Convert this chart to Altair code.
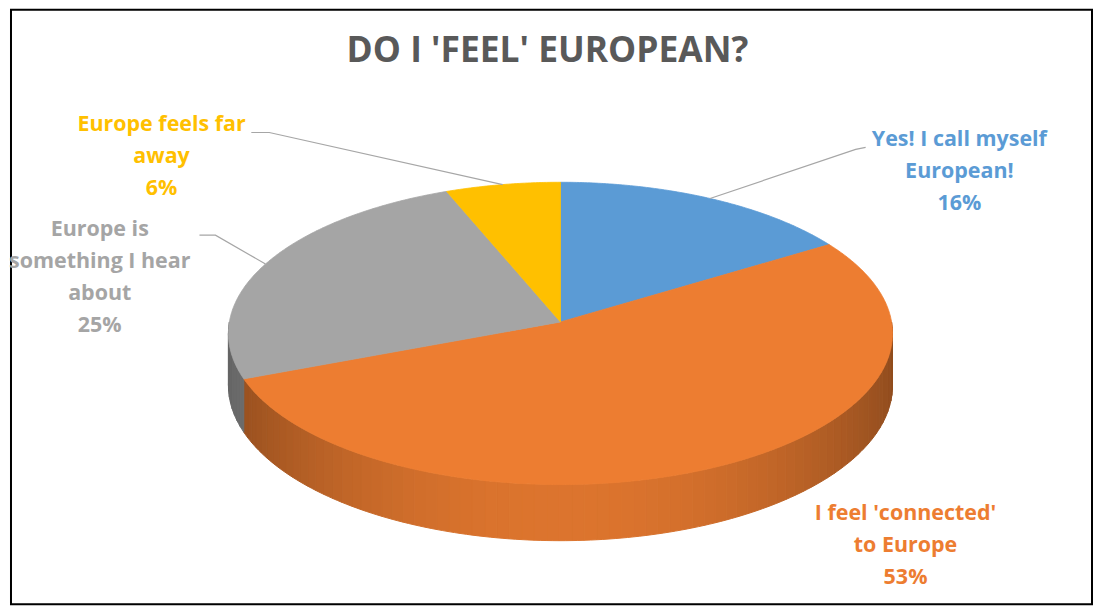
import numpy as np
import pandas as pd
import altair as alt

# ---- data ----
categories = ["Yes! I call myself European!", "I feel 'connected' to Europe",
              "Europe is something I hear about", "Europe feels far away"]
label_lines = [["Yes! I call myself", "European!"],
               ["I feel 'connected'", "to Europe"],
               ["Europe is", "something I hear", "about"],
               ["Europe feels far", "away"]]
values = [16, 53, 25, 6]
colors = ["#5B9BD5", "#ED7D31", "#A5A5A5", "#FFC000"]
title_text = "DO I 'FEEL' EUROPEAN?"

# ---- layout (plot coordinates, px from top-left of plot area) ----
W, H = 1084, 596
CX, CY = 551, 313          # apex of the pie
RX, K, P, DEPTH = 332, 150.7, -0.0758, 52
label_pos = [(951, 137), (897, 512), (89, 227), (151, 122)]
leader_pts = [[(857, 138), (847, 140)], None, [(189, 226), (205, 226)], [(241, 123), (259, 123)]]
LINE_H = 32


def project(theta, drop=0.0):
    u = np.sin(theta)
    s = -np.cos(theta)
    d = 1 + P * s
    return CX + RX * u / d, CY + (K * s + drop) / d


def shade(hexcol, f):
    h = hexcol.lstrip("#")
    r, g, b = (int(h[i:i + 2], 16) for i in (0, 2, 4))
    return "#%02x%02x%02x" % tuple(int(max(0, min(255, round(c * f)))) for c in (r, g, b))


total = sum(values)
bounds = np.concatenate([[0], np.cumsum(values)]) / total * 2 * np.pi

top_rows, side_rows = [], []
for i, (a0, a1) in enumerate(zip(bounds[:-1], bounds[1:])):
    # top face wedge
    n = max(3, int(np.degrees(a1 - a0) / 0.5))
    th = np.linspace(a0, a1, n)
    xs, ys = project(th)
    pts = [(CX, CY)] + list(zip(xs, ys)) + [(CX, CY)]
    for j, (x, y) in enumerate(pts):
        top_rows.append(dict(poly=f"top{i}", idx=j, x=x, y=y, col=colors[i]))
    # visible side (front half)
    lo, hi = max(a0, np.pi / 2), min(a1, 3 * np.pi / 2)
    if hi > lo:
        m = max(2, int(np.degrees(hi - lo) / 2))
        edges = np.linspace(lo, hi, m + 1)
        for k in range(m):
            t0, t1 = edges[k], edges[k + 1]
            tm = 0.5 * (t0 + t1)
            f = 0.93 - 0.32 * np.sin(tm) ** 2
            c = shade(colors[i], f)
            tt = np.linspace(t0, t1, 3)
            xt, yt = project(tt)
            xb, yb = project(tt[::-1], DEPTH)
            ring = list(zip(xt, yt)) + list(zip(xb, yb)) + [(xt[0], yt[0])]
            for j, (x, y) in enumerate(ring):
                side_rows.append(dict(poly=f"side{i}_{k}", idx=j, x=x, y=y, col=c))

top_df = pd.DataFrame(top_rows)
side_df = pd.DataFrame(side_rows)

lab_rows, lead_rows = [], []
for i, cat in enumerate(categories):
    pct = round(values[i] / total * 100)
    lab_rows.append(dict(cat=cat, text=label_lines[i] + [f"{pct}%"],
                         x=label_pos[i][0], y=label_pos[i][1], col=colors[i]))
    if leader_pts[i] is not None:
        mid = 0.5 * (bounds[i] + bounds[i + 1])
        ex, ey = project(mid)
        pts = leader_pts[i] + [(ex, ey)]
        for j, (x, y) in enumerate(pts):
            lead_rows.append(dict(cat=cat, idx=j, x=x, y=y))
lab_df = pd.DataFrame(lab_rows)
lead_df = pd.DataFrame(lead_rows)
title_df = pd.DataFrame([dict(text=title_text, x=538, y=41)])

xs_ = alt.Scale(domain=[0, W], nice=False, zero=False)
ys_ = alt.Scale(domain=[0, H], nice=False, zero=False, reverse=True)
X = lambda f: alt.X(f, type="quantitative", scale=xs_, axis=None)
Y = lambda f: alt.Y(f, type="quantitative", scale=ys_, axis=None)

sides = alt.Chart(side_df).mark_line(filled=True, strokeWidth=1).encode(
    x=X("x"), y=Y("y"), detail="poly:N", order="idx:Q",
    fill=alt.Fill("col:N", scale=None), stroke=alt.Stroke("col:N", scale=None))

tops = alt.Chart(top_df).mark_line(filled=True, strokeWidth=0.8).encode(
    x=X("x"), y=Y("y"), detail="poly:N", order="idx:Q",
    fill=alt.Fill("col:N", scale=None), stroke=alt.Stroke("col:N", scale=None))

leaders = alt.Chart(lead_df).mark_line(color="#A6A6A6", strokeWidth=1.2).encode(
    x=X("x"), y=Y("y"), detail="cat:N", order="idx:Q")

labels = alt.Chart(lab_df).mark_text(
    font="Open Sans", fontSize=21.5, fontWeight="bold", align="center",
    baseline="alphabetic", lineHeight=LINE_H).encode(
    x=X("x"), y=Y("y"), text="text", color=alt.Color("col:N", scale=None))

title = alt.Chart(title_df).mark_text(
    font="Open Sans", fontSize=35.5, fontWeight="bold", color="#595959",
    align="center", baseline="middle").encode(x=X("x"), y=Y("y"), text="text:N")

chart = alt.layer(sides, tops, leaders, labels, title).properties(
    width=W, height=H, padding={"left": 1, "top": 1, "right": 1, "bottom": 1}
).configure_view(stroke="#000000", strokeWidth=2)

chart.save("out.html", embed_options={"renderer": "svg", "actions": False})
